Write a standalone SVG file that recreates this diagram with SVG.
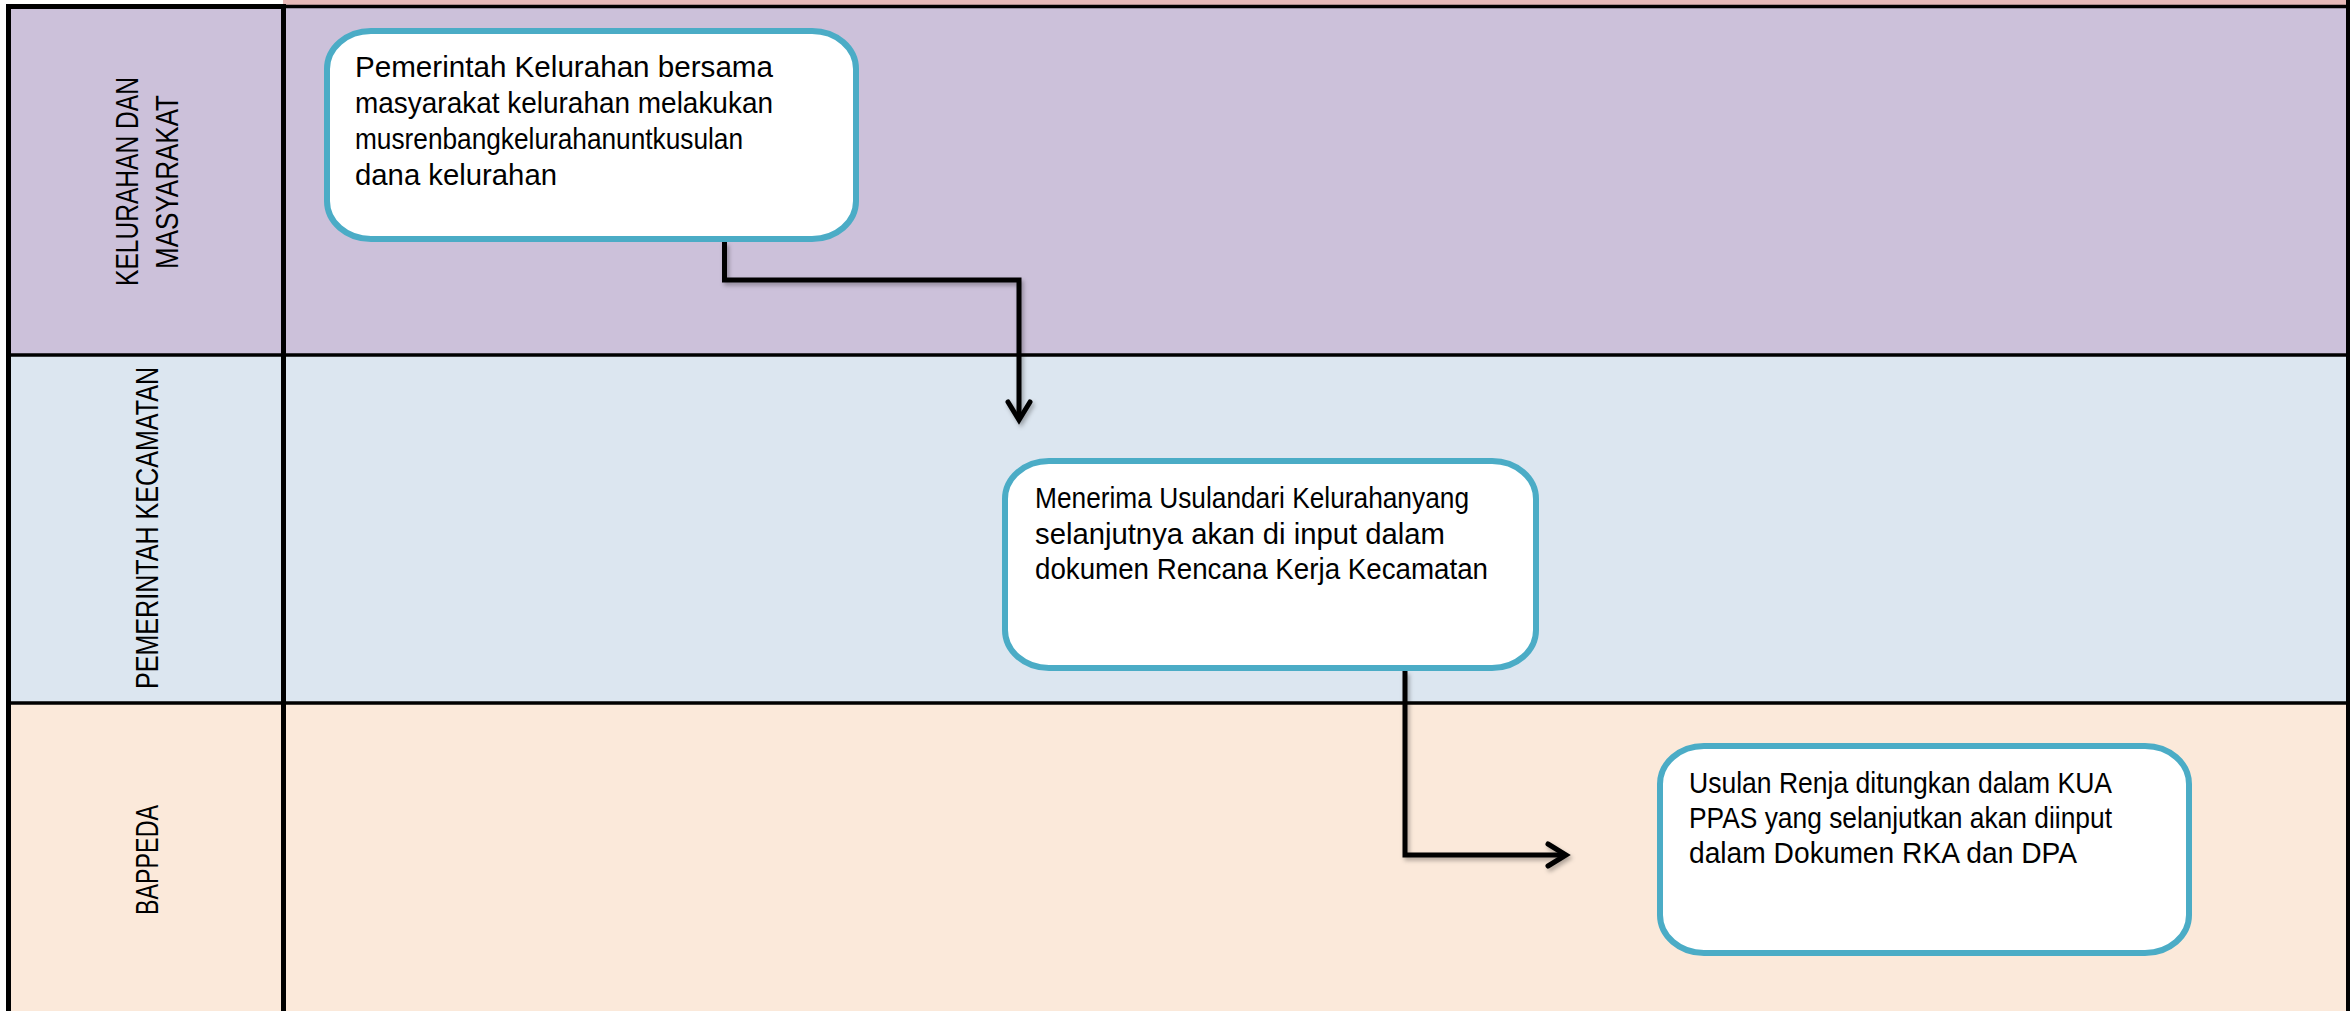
<svg xmlns="http://www.w3.org/2000/svg" width="2352" height="1011" viewBox="0 0 2352 1011">
  <style>
    .lane-border { stroke: #000; fill: none; }
    .node-box { fill: #FFFFFF; stroke: #4BACC6; stroke-width: 6; }
    .node-text { font-family: "Liberation Sans", Arial, sans-serif; font-size: 30px; fill: #000; }
    .lane-label { font-family: "Liberation Sans", Arial, sans-serif; font-size: 32px; fill: #000; text-anchor: middle; }
    .conn { fill: none; stroke: #000; stroke-width: 5; stroke-linejoin: miter; stroke-linecap: butt; }
  </style>
  <defs>
    <marker id="chevron" markerUnits="userSpaceOnUse" viewBox="-26 -16 36 32" markerWidth="36" markerHeight="32" refX="0" refY="0" orient="auto">
      <path d="M-18,-11 L0,0 L-18,11" fill="none" stroke="#000" stroke-width="5" stroke-linecap="round" stroke-linejoin="miter"/>
    </marker>
    <filter id="shadow" x="-20%" y="-20%" width="140%" height="140%">
      <feDropShadow dx="2" dy="3" stdDeviation="2" flood-color="#000" flood-opacity="0.3"/>
    </filter>
  </defs>

  <g id="lanes">
    <rect x="0" y="0" width="2352" height="1011" fill="#FFFFFF"/>
    <rect x="283" y="0" width="2065" height="7" fill="#E6B9B8"/>
    <rect x="8" y="6.5" width="2340" height="348.5" fill="#CCC1DA"/>
    <rect x="8" y="355" width="2340" height="348" fill="#DCE6F0"/>
    <rect x="8" y="703" width="2340" height="308" fill="#FBE9DA"/>
    <line class="lane-border" x1="8" y1="6.5" x2="2350" y2="6.5" stroke-width="3.5"/>
    <line class="lane-border" x1="6" y1="6.5" x2="286" y2="6.5" stroke-width="5"/>
    <line class="lane-border" x1="8" y1="355" x2="2348" y2="355" stroke-width="3.5"/>
    <line class="lane-border" x1="8" y1="703" x2="2348" y2="703" stroke-width="3.5"/>
    <line class="lane-border" x1="8.5" y1="4" x2="8.5" y2="1011" stroke-width="5"/>
    <line class="lane-border" x1="283.5" y1="4" x2="283.5" y2="1011" stroke-width="5"/>
    <line class="lane-border" x1="2348" y1="0" x2="2348" y2="1011" stroke-width="4"/>
    <text class="lane-label" transform="translate(138,181.5) rotate(-90)" textLength="209" lengthAdjust="spacingAndGlyphs">KELURAHAN DAN</text>
    <text class="lane-label" transform="translate(178,182) rotate(-90)" textLength="174" lengthAdjust="spacingAndGlyphs">MASYARAKAT</text>
    <text class="lane-label" transform="translate(158,528) rotate(-90)" textLength="322" lengthAdjust="spacingAndGlyphs">PEMERINTAH KECAMATAN</text>
    <text class="lane-label" transform="translate(158,860) rotate(-90)" textLength="110" lengthAdjust="spacingAndGlyphs">BAPPEDA</text>
  </g>

  <g id="connectors">
    <path class="conn" filter="url(#shadow)" marker-end="url(#chevron)" d="M724.5,242 V280 H1019 V420"/>
    <path class="conn" filter="url(#shadow)" marker-end="url(#chevron)" d="M1405,671 V855 H1566"/>
  </g>

  <g id="node-musrenbang">
    <rect class="node-box" x="327" y="31" width="529" height="208" rx="44" ry="38"/>
    <text class="node-text" x="355" y="77" textLength="418" lengthAdjust="spacingAndGlyphs">Pemerintah Kelurahan bersama</text>
    <text class="node-text" x="355" y="113" textLength="418" lengthAdjust="spacingAndGlyphs">masyarakat kelurahan melakukan</text>
    <text class="node-text" x="355" y="148.5" textLength="388" lengthAdjust="spacingAndGlyphs">musrenbangkelurahanuntkusulan</text>
    <text class="node-text" x="355" y="184.5" textLength="202" lengthAdjust="spacingAndGlyphs">dana kelurahan</text>
  </g>

  <g id="node-kecamatan">
    <rect class="node-box" x="1005" y="461" width="531" height="207" rx="44" ry="38"/>
    <text class="node-text" x="1035" y="508" textLength="434" lengthAdjust="spacingAndGlyphs">Menerima Usulandari Kelurahanyang</text>
    <text class="node-text" x="1035" y="544" textLength="410" lengthAdjust="spacingAndGlyphs">selanjutnya akan di input dalam</text>
    <text class="node-text" x="1035" y="579" textLength="453" lengthAdjust="spacingAndGlyphs">dokumen Rencana Kerja Kecamatan</text>
  </g>

  <g id="node-bappeda">
    <rect class="node-box" x="1660" y="746" width="529" height="207" rx="44" ry="38"/>
    <text class="node-text" x="1689" y="793" textLength="423" lengthAdjust="spacingAndGlyphs">Usulan Renja ditungkan dalam KUA</text>
    <text class="node-text" x="1689" y="828" textLength="423" lengthAdjust="spacingAndGlyphs">PPAS yang selanjutkan akan diinput</text>
    <text class="node-text" x="1689" y="863" textLength="388" lengthAdjust="spacingAndGlyphs">dalam Dokumen RKA dan DPA</text>
  </g>
</svg>
